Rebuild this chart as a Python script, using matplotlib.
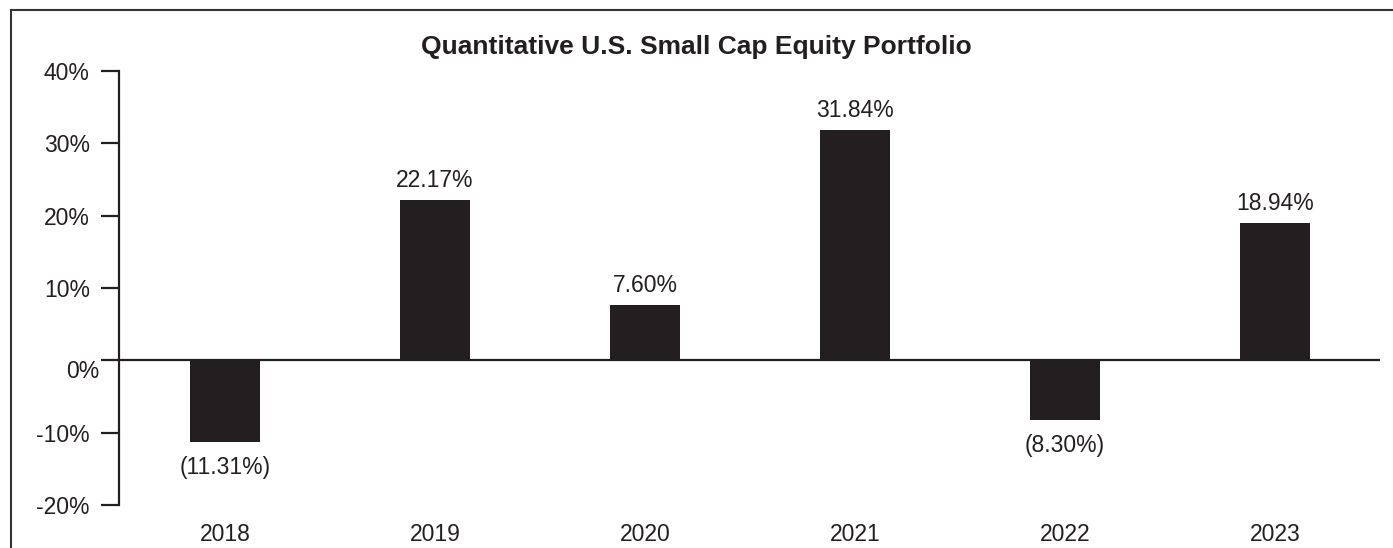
import matplotlib.pyplot as plt
import matplotlib.transforms as mtransforms
from matplotlib.lines import Line2D

years = ["2018", "2019", "2020", "2021", "2022", "2023"]
returns = [-11.31, 22.17, 7.60, 31.84, -8.30, 18.94]
labels = ["(11.31%)", "22.17%", "7.60%", "31.84%", "(8.30%)", "18.94%"]
yticks = [-20, -10, 0, 10, 20, 30, 40]

plt.rcParams['font.family'] = ['Liberation Sans', 'DejaVu Sans']

fig = plt.figure(figsize=(13.93, 5.48), dpi=100)
ax = fig.add_axes([0.0854, 0.0785, 0.9907 - 0.0854, 0.8704 - 0.0785])

dark = '#231f20'
fs = 16.5
x = range(len(years))
ax.bar(x, returns, width=0.333, color=dark)

for xi, v, lab in zip(x, returns, labels):
    if v >= 0:
        ax.text(xi, v + 1.1, lab, ha='center', va='bottom', fontsize=fs, color=dark)
    else:
        ax.text(xi, v - 1.9, lab, ha='center', va='top', fontsize=fs, color=dark)

ax.axhline(0, color=dark, lw=1.6)
ax.set_xlim(-0.505, 5.5)
ax.set_ylim(-20, 40)

ax.set_yticks(yticks)
ax.set_yticklabels([f"{t}%" for t in yticks], fontsize=fs, color=dark)
ax.tick_params(axis='y', length=13, width=1.6, color=dark, pad=8)
# zero label sits lower and closer to the axis in the original
shift = mtransforms.ScaledTranslation(10 / 100, 0, fig.dpi_scale_trans)
for t in ax.get_yticklabels():
    if t.get_text() == "0%":
        t.set_va('top')
        t.set_transform(t.get_transform() + shift)

ax.set_xticks(list(x))
ax.set_xticklabels(years, fontsize=fs, color=dark)
ax.tick_params(axis='x', length=0, pad=13)

for s in ['top', 'right', 'bottom']:
    ax.spines[s].set_visible(False)
ax.spines['left'].set_linewidth(1.6)
ax.spines['left'].set_color(dark)

fig.text(0.5, 1 - 47 / 548, "Quantitative U.S. Small Cap Equity Portfolio",
         ha='center', va='center', fontsize=19, fontweight='bold', color=dark)

# outer frame (top and left edges visible in the original)
fig.add_artist(Line2D([11 / 1393, 11 / 1393], [0, 1 - 10 / 548], color='#333333', lw=1.5))
fig.add_artist(Line2D([11 / 1393, 1], [1 - 10 / 548, 1 - 10 / 548], color='#333333', lw=1.5))

fig.savefig("out.png", dpi=100)
